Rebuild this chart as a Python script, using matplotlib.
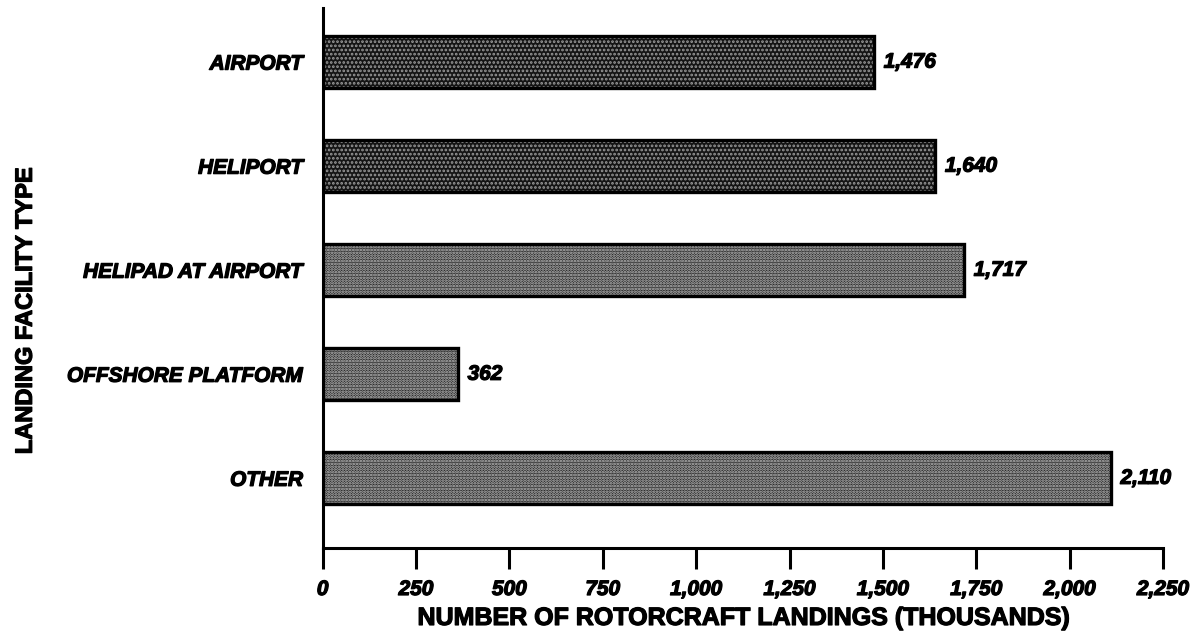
import matplotlib
matplotlib.use("Agg")
from matplotlib import pyplot as plt
from matplotlib import patheffects
import numpy as np

plt.rcParams['font.family'] = ['Liberation Sans', 'DejaVu Sans']
plt.rcParams['hatch.linewidth'] = 1.3

categories = ['AIRPORT', 'HELIPORT', 'HELIPAD AT AIRPORT', 'OFFSHORE PLATFORM', 'OTHER']
landings = [1476, 1640, 1717, 362, 2110]
value_labels = ['1,476', '1,640', '1,717', '362', '2,110']
x_ticks = [0, 250, 500, 750, 1000, 1250, 1500, 1750, 2000, 2250]
x_tick_labels = ['0', '250', '500', '750', '1,000', '1,250', '1,500', '1,750', '2,000', '2,250']

# stipple: sparse light dots on the first two bars, dense on the rest
colors = ['#151515', '#151515', '#262626', '#262626', '#262626']
dot_colors = ['#9a9a9a', '#9a9a9a', '#c4c4c4', '#c4c4c4', '#c4c4c4']
hatches = ['....', '....', '......', '......', '......']

heavy = [patheffects.withStroke(linewidth=0.9, foreground='black')]

fig = plt.figure(figsize=(12.04, 6.41), dpi=100)
ax = fig.add_axes([0.268, 0.145, 0.698, 0.8425])

pos = np.arange(len(categories))
for p, v, c, d, h in zip(pos, landings, colors, dot_colors, hatches):
    ax.barh(p, v, height=0.5, color=c, edgecolor=d, linewidth=0, hatch=h)
ax.barh(pos, landings, height=0.5, fill=False, edgecolor='black', linewidth=2.4)

for p, v, t in zip(pos, landings, value_labels):
    ax.text(v + 26, p, t, va='center', ha='left', fontsize=15, fontweight='bold',
            fontstyle='italic', path_effects=heavy)

ax.set_ylim(len(categories) - 1 + 0.67, -0.52)
ax.set_xlim(0, 2250)
ax.set_yticks(pos)
ax.set_yticklabels(categories, fontsize=15, fontweight='bold', fontstyle='italic')
ax.tick_params(axis='y', length=0, pad=14)
ax.set_xticks(x_ticks)
ax.set_xticklabels(x_tick_labels, fontsize=15, fontweight='bold', fontstyle='italic')
ax.tick_params(axis='x', direction='out', length=15, width=2.2, pad=8)
for lab in ax.get_xticklabels() + ax.get_yticklabels():
    lab.set_path_effects(heavy)

ax.spines['top'].set_visible(False)
ax.spines['right'].set_visible(False)
ax.spines['left'].set_linewidth(2.2)
ax.spines['bottom'].set_linewidth(2.2)

ax.set_xlabel('NUMBER OF ROTORCRAFT LANDINGS (THOUSANDS)', fontsize=18, fontweight='bold', labelpad=5,
              path_effects=heavy)
fig.text(0.021, 0.516, 'LANDING FACILITY TYPE', rotation=90, va='center', ha='center',
         fontsize=17, fontweight='bold', path_effects=heavy)

fig.savefig('out.png', dpi=100)
